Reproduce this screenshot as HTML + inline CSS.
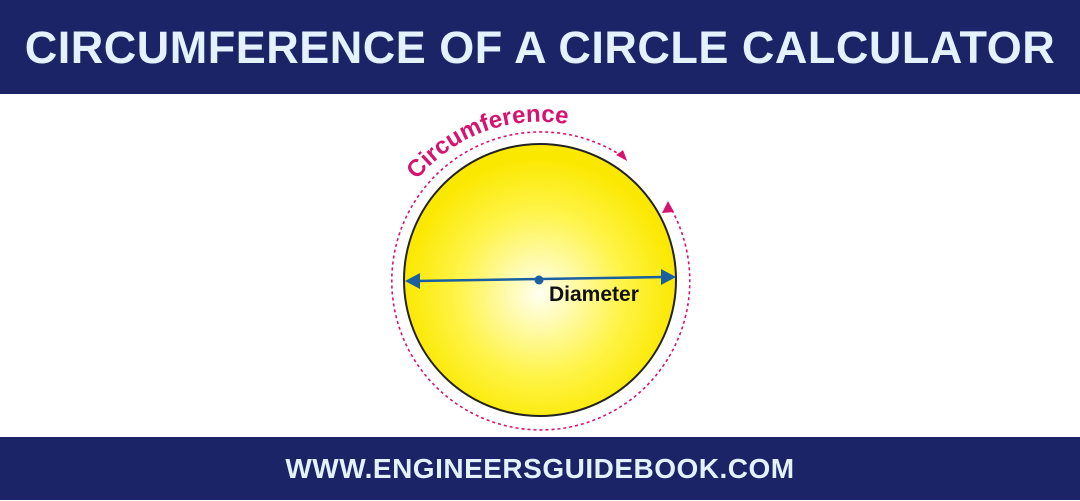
<!DOCTYPE html>
<html><head><style>
html,body{margin:0;padding:0;width:1080px;height:500px;overflow:hidden;background:#fff;font-family:"Liberation Sans",sans-serif}
.top{position:absolute;left:0;top:0;width:1080px;height:94px;background:#1b2466;color:#e4f1ff;font-weight:bold;font-size:45px;text-align:center;line-height:96px;letter-spacing:0.5px}
.bot{position:absolute;left:0;top:437px;width:1080px;height:63px;background:#1b2466;color:#e4f1ff;font-weight:bold;font-size:28px;text-align:center;line-height:64px;letter-spacing:0.5px}
svg{position:absolute;left:0;top:0}
</style></head><body>
<div class="top">CIRCUMFERENCE OF A CIRCLE CALCULATOR</div>
<svg width="1080" height="500">
<defs>
<radialGradient id="g" cx="0.5" cy="0.55" r="0.5">
<stop offset="0" stop-color="#fffff0"/>
<stop offset="0.6" stop-color="#fff44a"/>
<stop offset="1" stop-color="#fbe800"/>
</radialGradient>
<path id="tp" d="M 417 180 A 158 158 0 0 1 580 127"/>
</defs>
<path d="M 669 205 A 149 149 0 1 1 625 158" fill="none" stroke="#d6136f" stroke-width="1.6" stroke-dasharray="3 3"/>
<polygon points="668,201 662,213 674,212" fill="#d6136f"/>
<polygon points="628,160 616,156 622,150" fill="#d6136f" transform="rotate(10 622 156)"/>
<circle cx="540" cy="280" r="136" fill="url(#g)" stroke="#222" stroke-width="2"/>
<line x1="416" y1="281" x2="664" y2="277" stroke="#1a5fa0" stroke-width="2.5"/>
<polygon points="405,281 420,273 420,289" fill="#1a5fa0"/>
<polygon points="676,277 661,269 661,285" fill="#1a5fa0"/>
<circle cx="539" cy="280" r="4.5" fill="#1a5fa0"/>
<text x="549" y="301" font-family="Liberation Sans" font-weight="bold" font-size="21" fill="#111">Diameter</text>
<text font-family="Liberation Sans" font-weight="bold" font-size="24" fill="#d6136f"><textPath href="#tp">Circumference</textPath></text>
</svg>
<div class="bot">WWW.ENGINEERSGUIDEBOOK.COM</div>
</body></html>
